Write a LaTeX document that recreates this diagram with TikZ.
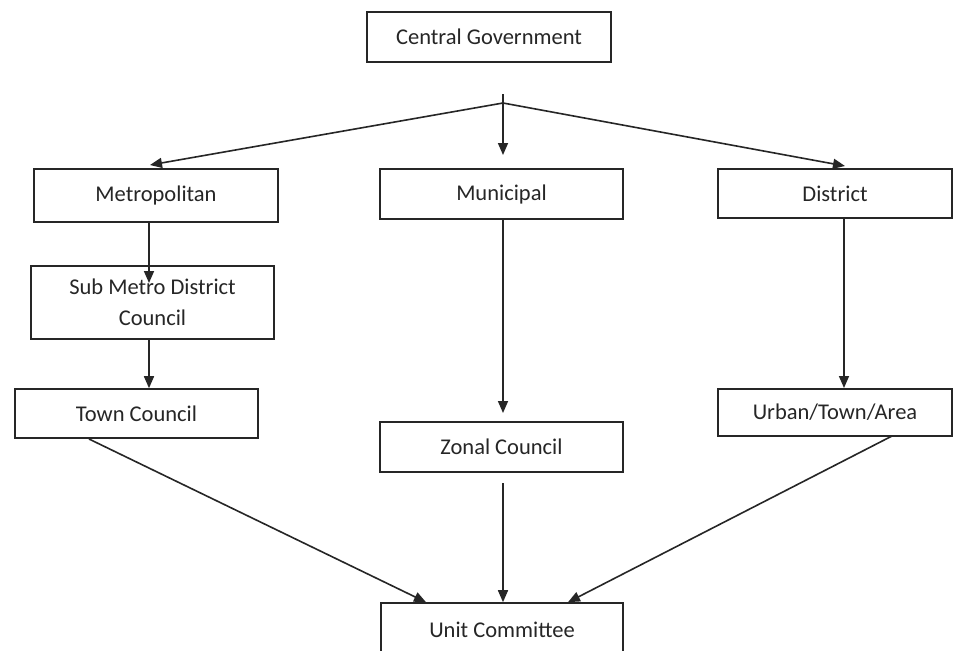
\documentclass[tikz,border=0pt]{standalone}
\usepackage{fontspec}
\setmainfont{Carlito}
\usetikzlibrary{arrows.meta}
\begin{document}
\begin{tikzpicture}[x=1pt,y=-1pt,
  box/.style={draw=black!85,line width=1.6pt,fill=white,inner sep=0pt,align=center,
    font=\fontsize{22.5}{31}\selectfont,text=black!85},
  arr/.style={line width=1.6pt,draw=black!85,-{Triangle[length=12pt,width=10pt]}},
  ln/.style={line width=1.6pt,draw=black!85}]
\useasboundingbox[fill=white] (0,0) rectangle (954,651);
\node[box,minimum width=244pt,minimum height=50pt] (cg) at (489,37) {Central Government};
\node[box,minimum width=244pt,minimum height=53pt] (metro) at (156,195.5) {Metropolitan};
\node[box,minimum width=243pt,minimum height=50pt] (muni) at (501.5,194) {Municipal};
\node[box,minimum width=234pt,minimum height=49pt] (dist) at (835,193.5) {District};
\node[box,minimum width=243pt,minimum height=73pt] (sub) at (152.5,302.5) {Sub Metro District\\Council};
\node[box,minimum width=243pt,minimum height=49pt] (town) at (136.5,413.5) {Town Council};
\node[box,minimum width=243pt,minimum height=50pt] (zonal) at (501.5,447) {Zonal Council};
\node[box,minimum width=234pt,minimum height=47pt] (urban) at (835,412.5) {Urban/Town/Area};
\node[box,minimum width=242pt,minimum height=54pt] (unit) at (502,630) {Unit Committee};
% branching
\coordinate (top) at (503,94);
\coordinate (br) at (503,103);
\coordinate (tmetro) at (150,165);
\coordinate (tmuni) at (503,155);
\coordinate (tdist) at (845,166);
\draw[ln] (top) -- (br);
\draw[arr] (br) -- (tmetro);
\draw[arr] (br) -- (tmuni);
\draw[arr] (br) -- (tdist);
% vertical links
\coordinate (tsub) at (149,283);
\draw[arr] (metro.south -| tsub) -- (tsub);
\draw[arr] (sub.south -| tsub) -- (town.north -| tsub);
\coordinate (tzonal) at (503,413);
\draw[arr] (muni.south -| tzonal) -- (tzonal);
\coordinate (turban) at (844,388);
\draw[arr] (dist.south -| turban) -- (turban);
% to unit committee
\coordinate (stown) at (89,439);
\coordinate (szonal) at (503,483);
\coordinate (surban) at (892,436);
\draw[arr] (stown) -- ([xshift=-76pt]unit.north);
\draw[arr] (szonal) -- ([xshift=1pt]unit.north);
\draw[arr] (surban) -- ([xshift=66pt]unit.north);
\end{tikzpicture}
\end{document}
